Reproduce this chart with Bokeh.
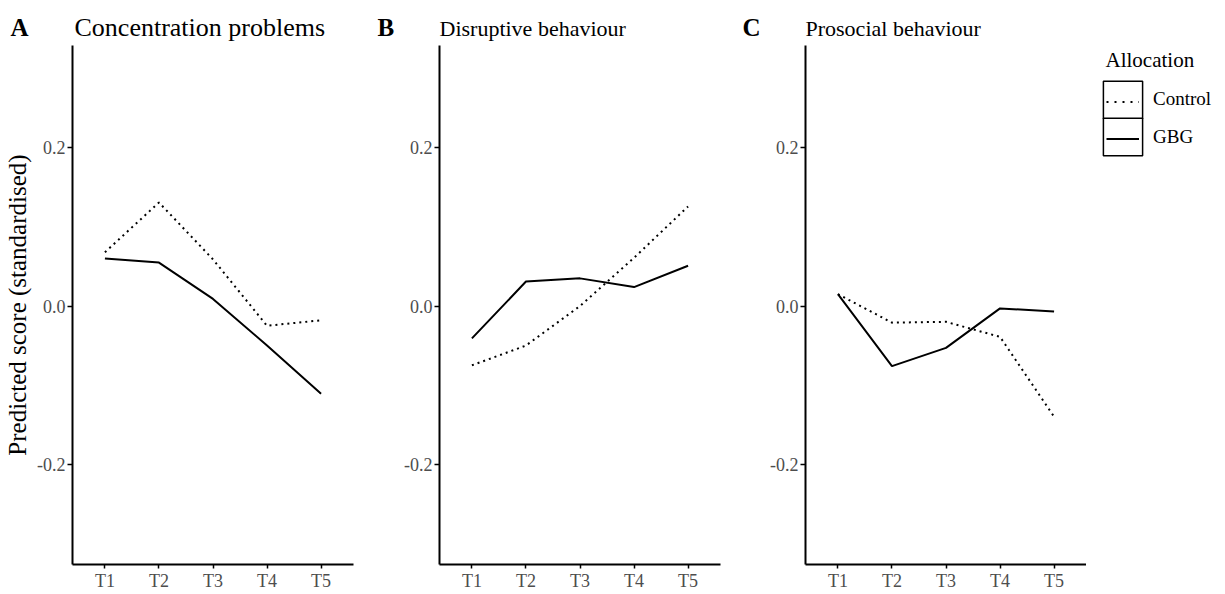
from bokeh.plotting import figure
from bokeh.layouts import row, column
from bokeh.models import (Range1d, FactorRange, FixedTicker, PrintfTickFormatter,
                          Legend, LegendItem, Label)
from bokeh.embed import file_html
from bokeh.resources import INLINE

# ---------------- data ----------------
times = ["T1", "T2", "T3", "T4", "T5"]
groups = ["Control", "GBG"]
panel_letters = ["A", "B", "C"]
panel_titles = ["Concentration problems", "Disruptive behaviour", "Prosocial behaviour"]

conc_control = [0.068, 0.131, 0.059, -0.025, -0.018]
conc_gbg = [0.060, 0.055, 0.009, -0.050, -0.111]
disr_control = [-0.075, -0.050, 0.000, 0.061, 0.126]
disr_gbg = [-0.041, 0.031, 0.035, 0.024, 0.051]
pros_control = [0.015, -0.021, -0.020, -0.039, -0.140]
pros_gbg = [0.015, -0.076, -0.053, -0.003, -0.007]

y_ticks = [-0.2, 0.0, 0.2]
y_label = "Predicted score (standardised)"
legend_title = "Allocation"

# ---------------- style / layout ----------------
FONT = "Liberation Serif"
TICK_COLOR = "#4d4d4d"
W_TOT = 1224
H_TOT = 593
H_TITLE = 45
H_MAIN = H_TOT - H_TITLE
BOTTOM = 26
FRAME_BOTTOM = H_TOT - BOTTOM      # page y of the panels' frame bottom
W_A, W_B, W_C = 373, 367, 346
W_L = W_TOT - W_A - W_B - W_C
Y_RANGE = (-0.3270, 0.3296)


def make_panel(control, gbg, width, left, right, with_label):
    p = figure(width=width, height=H_MAIN, title=None,
               x_range=FactorRange(factors=times, range_padding=0.1,
                                   range_padding_units="absolute"),
               y_range=Range1d(*Y_RANGE),
               output_backend="svg", toolbar_location=None,
               min_border_left=left, min_border_right=right,
               min_border_top=0, min_border_bottom=BOTTOM)
    p.outline_line_color = None
    p.xgrid.visible = False
    p.ygrid.visible = False
    for ax in (p.xaxis[0], p.yaxis[0]):
        ax.axis_line_width = 2
        ax.axis_line_color = "black"
        ax.major_tick_line_color = "black"
        ax.major_tick_line_width = 1.5
        ax.major_tick_out = 5
        ax.major_tick_in = 0
        ax.minor_tick_line_color = None
        ax.major_label_text_font = FONT
        ax.major_label_text_font_size = "18px"
        ax.major_label_text_color = TICK_COLOR
        ax.major_label_standoff = 2
    p.xaxis[0].major_tick_out = 4
    p.yaxis[0].ticker = FixedTicker(ticks=y_ticks)
    p.yaxis[0].formatter = PrintfTickFormatter(format="%.1f")
    if with_label:
        p.yaxis[0].axis_label = y_label
        p.yaxis[0].axis_label_text_font = FONT
        p.yaxis[0].axis_label_text_font_size = "25px"
        p.yaxis[0].axis_label_text_font_style = "normal"
        p.yaxis[0].axis_label_text_color = "black"
        p.yaxis[0].axis_label_standoff = 3
    p.line(x=times, y=control, line_color="black", line_width=2, line_dash="2 4")
    p.line(x=times, y=gbg, line_color="black", line_width=2)
    return p


pA = make_panel(conc_control, conc_gbg, W_A, 72, 20, True)
pB = make_panel(disr_control, disr_gbg, W_B, 66, 20, False)
pC = make_panel(pros_control, pros_gbg, W_C, 65, 0, False)

# ---------------- title strip (panel tags and titles) ----------------
ts = figure(width=W_TOT, height=H_TITLE, title=None, x_range=Range1d(0, W_TOT),
            y_range=Range1d(0, H_TITLE), x_axis_type=None, y_axis_type=None,
            output_backend="svg", toolbar_location=None, min_border=0)
ts.outline_line_color = None
tag_x = [10, 377, 742]
title_x = [74, 439, 805]
title_sizes = ["26px", "22px", "22px"]
title_y = [18, 17, 17]
for i in range(3):
    ts.add_layout(Label(x=tag_x[i], y=18, x_units="screen", y_units="screen",
                        text=panel_letters[i], text_font=FONT, text_font_style="bold",
                        text_font_size="25px", text_color="black",
                        text_baseline="alphabetic"))
    ts.add_layout(Label(x=title_x[i], y=title_y[i], x_units="screen", y_units="screen",
                        text=panel_titles[i], text_font=FONT, text_font_style="normal",
                        text_font_size=title_sizes[i], text_color="black",
                        text_baseline="alphabetic"))

# ---------------- legend panel ----------------
lf = figure(width=W_L, height=H_MAIN, title=None, x_range=FactorRange(factors=times),
            y_range=Range1d(*Y_RANGE), x_axis_type=None, y_axis_type=None,
            output_backend="svg", toolbar_location=None, min_border=0)
lf.outline_line_color = None

common = dict(orientation="vertical", padding=0, margin=0, border_line_color=None,
              background_fill_alpha=0, label_text_font=FONT)

line_items = []
key_tops = [78.8, 116.4]          # page y of each key legend's top
for k, (g, vals, dash) in enumerate(zip(groups, [pros_control, pros_gbg],
                                         ["2 6", "solid"])):
    bx = lf.rect(x=times, y=vals, width=0.5, height=0.05, fill_color="white",
                 line_color="black", line_width=1.5, visible=False)
    ln = lf.line(x=times, y=vals, line_color="black", line_width=2, line_dash=dash,
                 visible=False)
    lf.add_layout(Legend(items=[LegendItem(label=g, renderers=[bx])],
                         location=(12, FRAME_BOTTOM - key_tops[k] - 47),
                         glyph_width=49, glyph_height=47, spacing=0, label_standoff=6,
                         label_text_font_size="19px", label_text_color="black",
                         **common))
    line_items.append(LegendItem(label=" ", renderers=[ln]))

lf.add_layout(Legend(items=line_items, location=(20, FRAME_BOTTOM - 86 - 74),
                     glyph_width=33, glyph_height=37, spacing=0, label_standoff=0,
                     label_text_font_size="10px", **common))
lf.add_layout(Label(x=19, y=FRAME_BOTTOM - 67 + 5, x_units="screen", y_units="screen",
                    text=legend_title, text_font=FONT, text_font_size="21px",
                    text_color="black", text_baseline="alphabetic"))

layout = column(ts, row(pA, pB, pC, lf))
open("out.html", "w").write(file_html(layout, INLINE))
